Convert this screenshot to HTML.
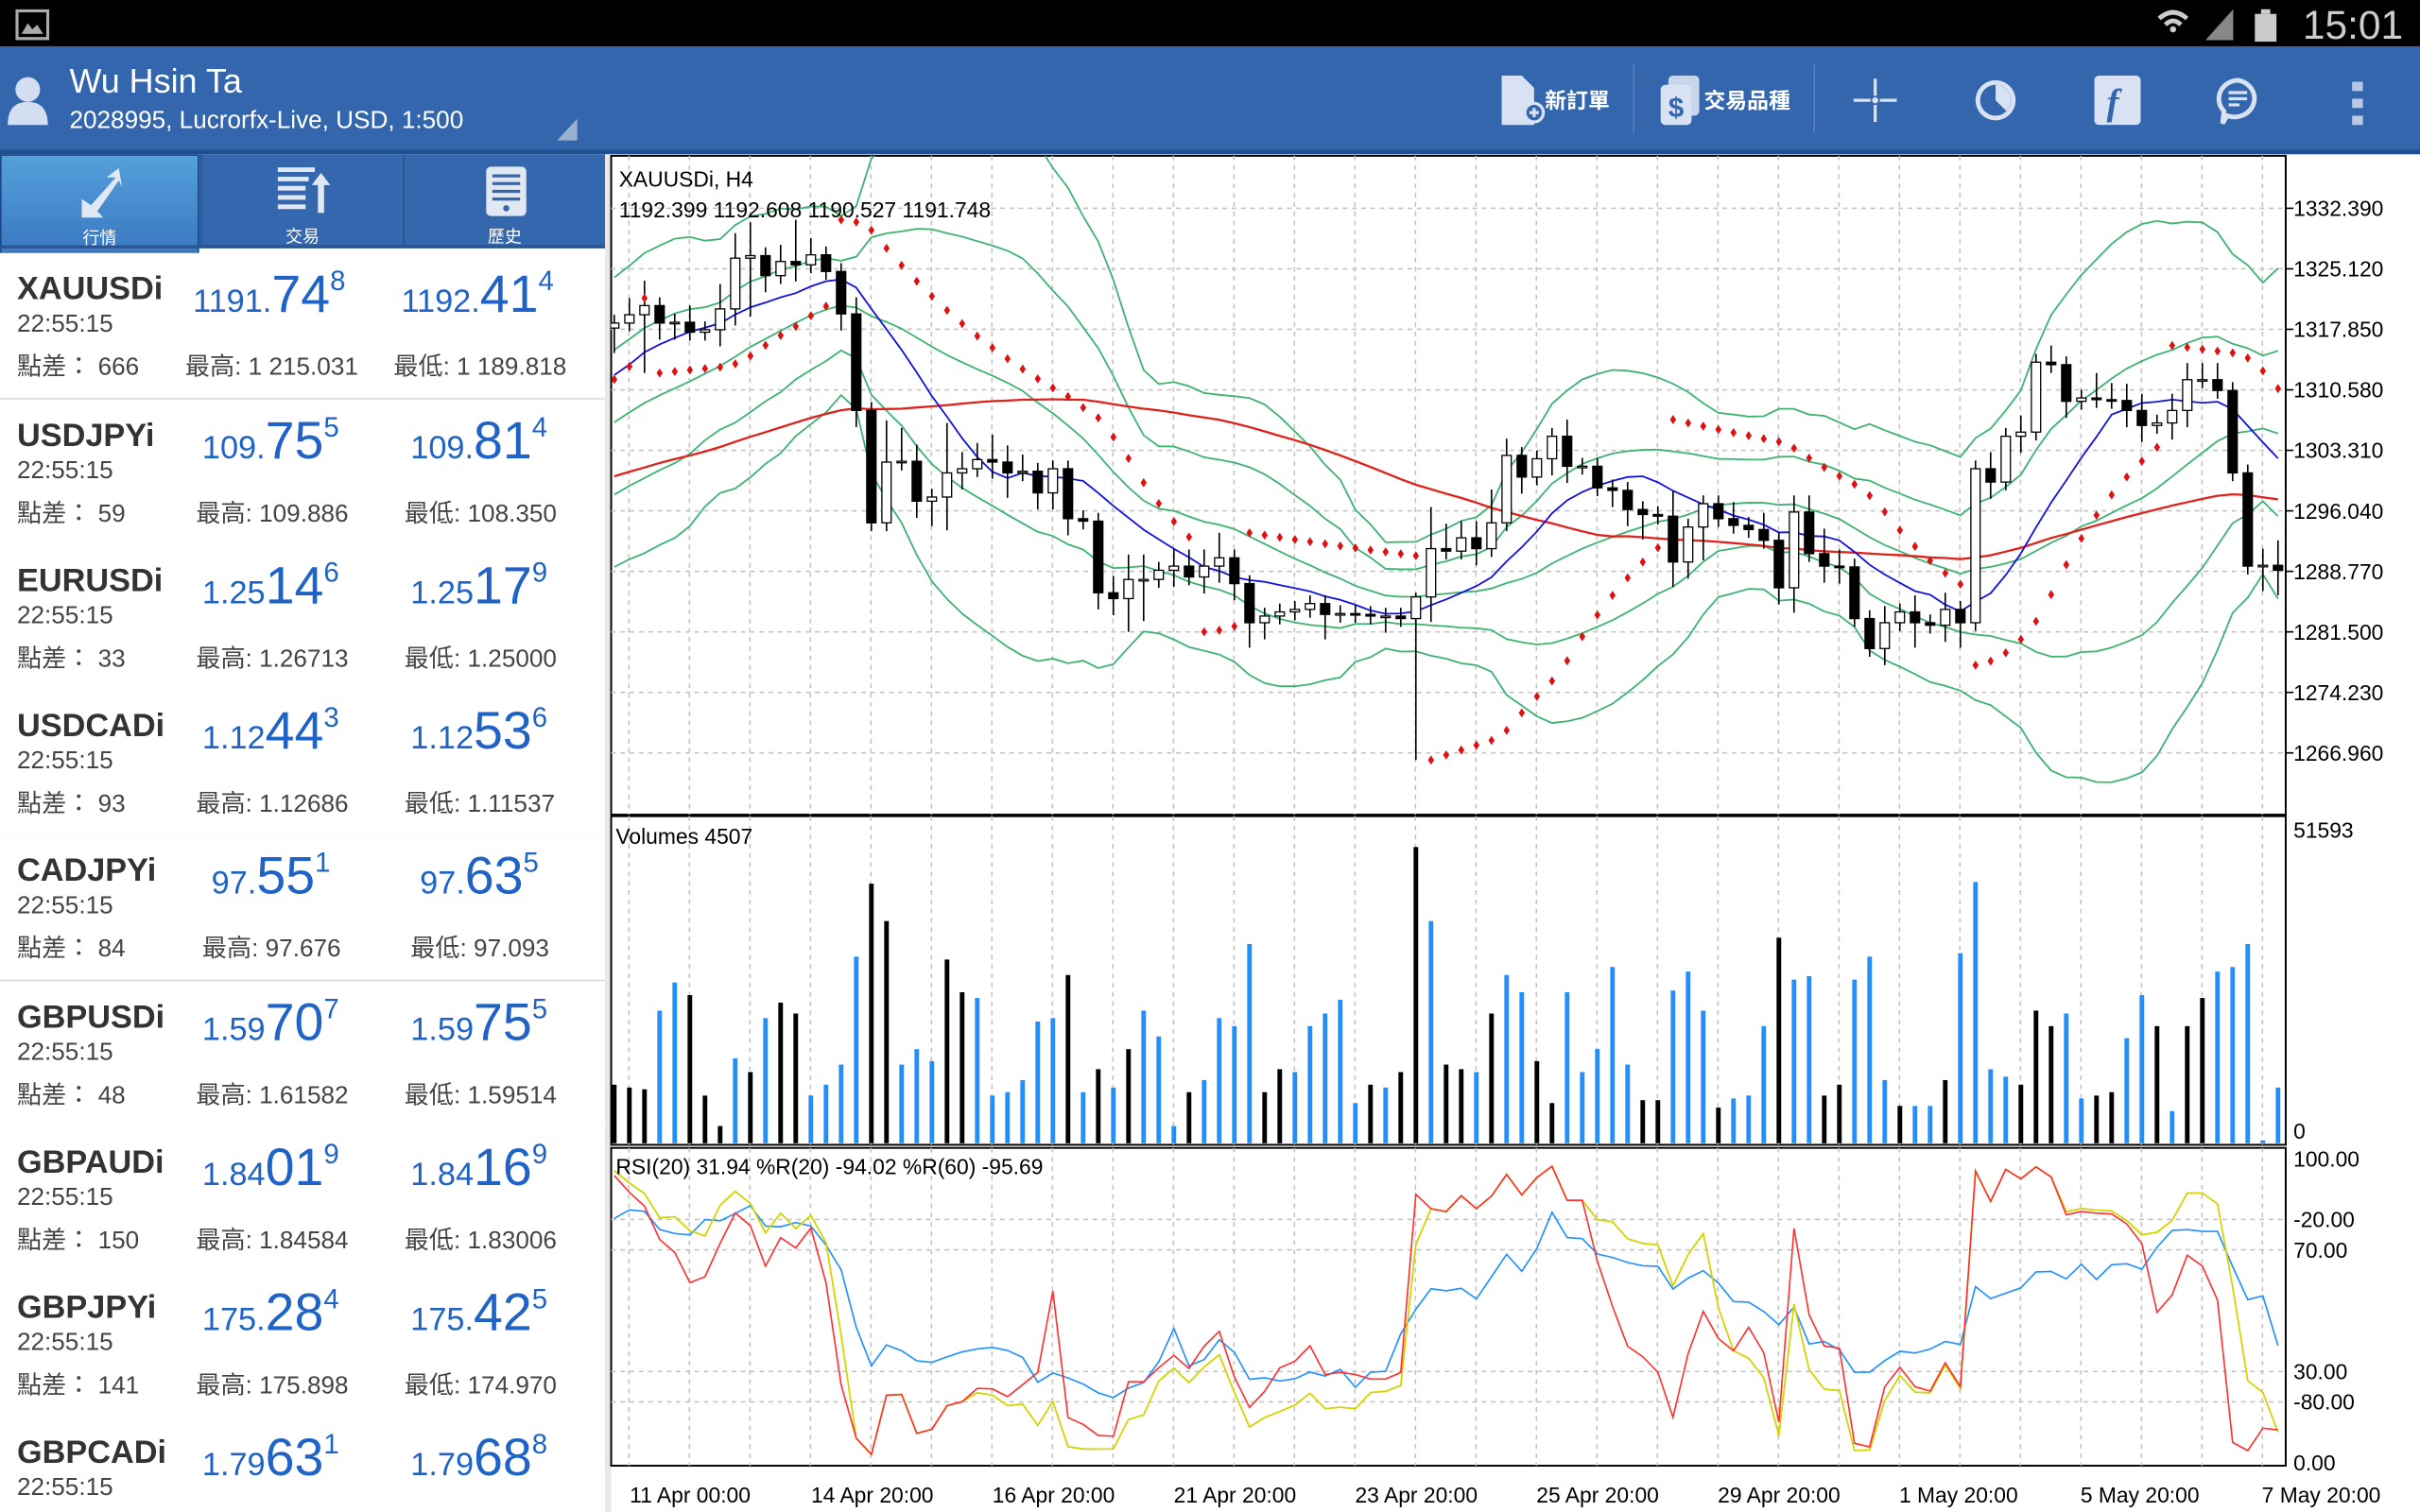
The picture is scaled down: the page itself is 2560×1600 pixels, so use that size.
<!DOCTYPE html>
<html><head><meta charset="utf-8">
<style>
html,body{margin:0;padding:0;background:#fff;overflow:hidden;width:2560px;height:1600px}
#wrap{position:absolute;left:0;top:0;width:1568px;height:980px;transform:scale(1.632653);transform-origin:0 0;font-family:"Liberation Sans","Noto Sans CJK TC",sans-serif}
.abs{position:absolute}
#status{left:0;top:0;width:1568px;height:30px;background:#000}
#header{left:0;top:30px;width:1568px;height:68px;background:#3366ad}
#hdrline{left:0;top:97px;width:1568px;height:3px;background:#1f4f8f}
.row{position:absolute;left:0;width:392px;height:94px;border-bottom:1px solid #d8d8d8;background:#fff}
.sym{position:absolute;left:11px;top:12px;font-size:21px;font-weight:bold;color:#333}
.tm{position:absolute;left:11px;top:38px;font-size:16px;color:#444}
.sp{position:absolute;left:11px;top:60px;font-size:16px;color:#444;white-space:nowrap}
.hi{position:absolute;left:120px;top:60px;font-size:16px;color:#444;white-space:nowrap}
.lo{position:absolute;left:255px;top:60px;font-size:16px;color:#444;white-space:nowrap}
.px{position:absolute;top:8px;color:#1f63c6;white-space:nowrap}
.px .s{font-size:21px}.px .b{font-size:34px}.px .u{font-size:18px;vertical-align:14px}
.tab{position:absolute;top:100px;height:60px;width:130px;color:#fff;font-size:11px;text-align:center}
</style></head><body>
<div id="wrap">
<div id="status" class="abs">
 <svg class="abs" style="left:10px;top:6px" width="22" height="20"><rect x="1" y="1" width="20" height="18" fill="none" stroke="#aaa" stroke-width="2"/><path d="M4 16 L8 9 L11 13 L14 10 L18 16Z" fill="#aaa"/></svg>
 <svg class="abs" style="left:1395px;top:4px" width="90" height="24"><path d="M4 8 Q13 0 22 8" stroke="#ccc" stroke-width="3" fill="none"/><path d="M8 12 Q13 7 18 12" stroke="#ccc" stroke-width="3" fill="none"/><circle cx="13" cy="15" r="2" fill="#ccc"/><path d="M34 22 L52 2 L52 22Z" fill="#888"/><rect x="66" y="5" width="14" height="18" fill="#ccc"/><rect x="70" y="2" width="6" height="3" fill="#ccc"/></svg>
 <div class="abs" style="left:1492px;top:1px;font-size:26px;color:#ccc">15:01</div>
</div>
<div id="header" class="abs">
 <svg class="abs" style="left:4px;top:18px" width="28" height="34"><circle cx="14" cy="10" r="8" fill="#d3dff0"/><path d="M1 33 Q1 18 14 18 Q27 18 27 33Z" fill="#d3dff0"/></svg>
 <div class="abs" style="left:45px;top:10px;font-size:22px;color:#fff">Wu Hsin Ta</div>
 <div class="abs" style="left:45px;top:40px;font-size:16px;color:#fff">2028995, Lucrorfx-Live, USD, 1:500</div>
 <svg class="abs" style="left:360px;top:46px" width="16" height="16"><path d="M14 1 L14 15 L1 15Z" fill="#9bb0d0"/></svg>
 <div class="abs" style="left:972px;top:18px;width:76px;height:34px"><svg width="30" height="34"><path d="M1 1 L14 1 L22 9 L22 33 L1 33Z" fill="#d8e2f2"/><circle cx="22" cy="25" r="6" fill="#3366ad" stroke="#d8e2f2" stroke-width="2"/><path d="M19 25h6M22 22v6" stroke="#d8e2f2" stroke-width="2"/></svg><span class="abs" style="left:29px;top:7px;color:#fff;font-size:14px;font-weight:bold">新訂單</span></div>
 <div class="abs" style="left:1058px;top:12px;width:1px;height:44px;background:#5a80bd"></div>
 <div class="abs" style="left:1075px;top:18px;width:90px;height:34px"><svg width="30" height="34"><rect x="6" y="1" width="20" height="26" rx="3" fill="#c8d6ec"/><rect x="1" y="7" width="20" height="26" rx="3" fill="#d8e2f2"/><text x="6" y="28" font-size="18" font-weight="bold" fill="#3366ad" font-family="Liberation Sans">$</text></svg><span class="abs" style="left:29px;top:7px;color:#fff;font-size:14px;font-weight:bold">交易品種</span></div>
 <div class="abs" style="left:1175px;top:12px;width:1px;height:44px;background:#5a80bd"></div>
 <svg class="abs" style="left:1200px;top:20px" width="30" height="30"><path d="M15 1v11M15 18v11M1 15h11M18 15h11" stroke="#d8e2f2" stroke-width="2"/><circle cx="15" cy="15" r="2" fill="#d8e2f2"/></svg>
 <svg class="abs" style="left:1278px;top:20px" width="30" height="30"><circle cx="15" cy="15" r="13" fill="#d8e2f2"/><circle cx="15" cy="15" r="10" fill="#3366ad"/><path d="M15 5 L15 15 L22 22 A10 10 0 0 0 15 5Z" fill="#d8e2f2"/></svg>
 <svg class="abs" style="left:1357px;top:19px" width="30" height="32"><rect x="0" y="0" width="30" height="32" rx="3" fill="#d8e2f2"/><text x="8" y="25" font-size="24" font-style="italic" font-weight="bold" fill="#3366ad" font-family="Liberation Serif">f</text></svg>
 <svg class="abs" style="left:1435px;top:20px" width="30" height="32"><path d="M15 2 A13 12 0 1 1 8 25 L5 30 L6 22 A13 12 0 0 1 15 2Z" fill="none" stroke="#d8e2f2" stroke-width="3"/><path d="M9 10h12M9 14h12M9 18h7" stroke="#d8e2f2" stroke-width="2"/></svg>
 <svg class="abs" style="left:1523px;top:22px" width="10" height="30"><rect x="1" y="1" width="7" height="6" fill="#b8c8e4"/><rect x="1" y="12" width="7" height="6" fill="#b8c8e4"/><rect x="1" y="23" width="7" height="6" fill="#b8c8e4"/></svg>
</div>
<div id="hdrline" class="abs"></div>
<div class="abs" style="left:0;top:100px;width:392px;height:60px;background:#3467ad"></div>
<div class="tab" style="left:0;width:129px;background:linear-gradient(#55a0dc,#3a78c0);border:1px solid #1d4a86;box-sizing:border-box;height:66px"><svg width="40" height="36" style="margin-top:6px"><path d="M8 34 L8 22 L14 26 L30 8 L24 8 L32 2 L34 14 L32 10 L18 30 L22 34Z" fill="#e0e8f4"/></svg><div>行情</div></div>
<div class="tab" style="left:130px;border-left:1px solid #2a5590"><svg width="40" height="36" style="margin-top:6px"><path d="M4 4h24M4 10h20M4 16h18M4 22h18M4 28h18" stroke="#e0e8f4" stroke-width="3"/><path d="M30 32 L30 14 L26 14 L32 6 L38 14 L34 14 L34 32Z" fill="#e0e8f4"/></svg><div>交易</div></div>
<div class="tab" style="left:261px;border-left:1px solid #2a5590"><svg width="40" height="36" style="margin-top:6px"><rect x="8" y="2" width="26" height="32" rx="3" fill="#e0e8f4"/><path d="M12 8h18M12 13h18M12 18h18M12 23h18" stroke="#3467ad" stroke-width="2"/><circle cx="21" cy="29" r="2" fill="#3467ad"/></svg><div>歷史</div></div>
<div class="abs" style="left:0;top:159px;width:392px;height:2px;background:#2a5590"></div>

<div class="row" style="top:164px"><div class="sym">XAUUSDi</div><div class="tm">22:55:15</div><div class="sp">點差： 666</div><div class="px" style="left:125px"><span class="s">1191.</span><span class="b">74</span><span class="u">8</span></div><div class="px" style="left:260px"><span class="s">1192.</span><span class="b">41</span><span class="u">4</span></div><div class="hi">最高: 1 215.031</div><div class="lo">最低: 1 189.818</div></div>
<div class="row" style="top:259px"><div class="sym">USDJPYi</div><div class="tm">22:55:15</div><div class="sp">點差： 59</div><div class="px" style="left:131px"><span class="s">109.</span><span class="b">75</span><span class="u">5</span></div><div class="px" style="left:266px"><span class="s">109.</span><span class="b">81</span><span class="u">4</span></div><div class="hi" style="left:127px">最高: 109.886</div><div class="lo" style="left:262px">最低: 108.350</div></div>
<div class="row" style="top:353px"><div class="sym">EURUSDi</div><div class="tm">22:55:15</div><div class="sp">點差： 33</div><div class="px" style="left:131px"><span class="s">1.25</span><span class="b">14</span><span class="u">6</span></div><div class="px" style="left:266px"><span class="s">1.25</span><span class="b">17</span><span class="u">9</span></div><div class="hi" style="left:127px">最高: 1.26713</div><div class="lo" style="left:262px">最低: 1.25000</div></div>
<div class="row" style="top:447px"><div class="sym">USDCADi</div><div class="tm">22:55:15</div><div class="sp">點差： 93</div><div class="px" style="left:131px"><span class="s">1.12</span><span class="b">44</span><span class="u">3</span></div><div class="px" style="left:266px"><span class="s">1.12</span><span class="b">53</span><span class="u">6</span></div><div class="hi" style="left:127px">最高: 1.12686</div><div class="lo" style="left:262px">最低: 1.11537</div></div>
<div class="row" style="top:541px"><div class="sym">CADJPYi</div><div class="tm">22:55:15</div><div class="sp">點差： 84</div><div class="px" style="left:137px"><span class="s">97.</span><span class="b">55</span><span class="u">1</span></div><div class="px" style="left:272px"><span class="s">97.</span><span class="b">63</span><span class="u">5</span></div><div class="hi" style="left:131px">最高: 97.676</div><div class="lo" style="left:266px">最低: 97.093</div></div>
<div class="row" style="top:636px"><div class="sym">GBPUSDi</div><div class="tm">22:55:15</div><div class="sp">點差： 48</div><div class="px" style="left:131px"><span class="s">1.59</span><span class="b">70</span><span class="u">7</span></div><div class="px" style="left:266px"><span class="s">1.59</span><span class="b">75</span><span class="u">5</span></div><div class="hi" style="left:127px">最高: 1.61582</div><div class="lo" style="left:262px">最低: 1.59514</div></div>
<div class="row" style="top:730px"><div class="sym">GBPAUDi</div><div class="tm">22:55:15</div><div class="sp">點差： 150</div><div class="px" style="left:131px"><span class="s">1.84</span><span class="b">01</span><span class="u">9</span></div><div class="px" style="left:266px"><span class="s">1.84</span><span class="b">16</span><span class="u">9</span></div><div class="hi" style="left:127px">最高: 1.84584</div><div class="lo" style="left:262px">最低: 1.83006</div></div>
<div class="row" style="top:824px"><div class="sym">GBPJPYi</div><div class="tm">22:55:15</div><div class="sp">點差： 141</div><div class="px" style="left:131px"><span class="s">175.</span><span class="b">28</span><span class="u">4</span></div><div class="px" style="left:266px"><span class="s">175.</span><span class="b">42</span><span class="u">5</span></div><div class="hi" style="left:127px">最高: 175.898</div><div class="lo" style="left:262px">最低: 174.970</div></div>
<div class="row" style="top:918px;height:62px;border:none"><div class="sym">GBPCADi</div><div class="tm">22:55:15</div><div class="px" style="left:131px"><span class="s">1.79</span><span class="b">63</span><span class="u">1</span></div><div class="px" style="left:266px"><span class="s">1.79</span><span class="b">68</span><span class="u">8</span></div></div>
<div class="abs" style="left:392px;top:100px;width:4px;height:880px;background:#e8e8e8"></div>

<svg id="chart" class="abs" style="left:0;top:0" width="1568" height="980"></svg>
</div>
<script>
const history=[1285,1284,1286,1288,1287,1289,1290,1288,1291,1292,1290,1293,1294,1292,1295,1296,1294,1293,1295,1297,1296,1298,1297,1299,1300,1298,1297,1299,1301,1300,1290,1291,1293,1292,1294,1295,1297,1296,1298,1299,1297,1296,1298,1300,1302,1301,1299,1302,1304,1303,1305,1307,1306,1309,1311,1310,1313,1315,1316,1318];
const closes=[1318.6,1319.6,1320.7,1318.6,1318.7,1317.5,1317.8,1320.3,1326.4,1326.7,1324.3,1326.0,1325.6,1326.8,1324.8,1319.7,1308.1,1294.6,1301.9,1302.0,1297.2,1297.7,1300.6,1301.1,1302.2,1301.9,1300.6,1300.8,1298.2,1301.1,1295.1,1294.8,1286.2,1285.5,1287.8,1287.8,1288.9,1289.4,1288.1,1289.4,1290.4,1287.3,1282.6,1283.4,1283.9,1284.2,1284.9,1283.6,1283.7,1283.6,1283.4,1283.4,1283.1,1285.7,1291.5,1291.2,1292.8,1291.5,1294.6,1302.7,1300.1,1302.3,1305.0,1301.4,1301.4,1298.8,1298.5,1296.2,1295.6,1295.4,1289.9,1294.1,1296.9,1295.1,1294.3,1293.8,1292.5,1286.8,1295.9,1290.9,1289.4,1289.3,1283.1,1279.5,1282.6,1283.9,1282.6,1282.3,1284.2,1282.6,1301.1,1299.5,1305.0,1305.5,1313.9,1313.6,1309.2,1309.6,1309.4,1309.3,1308.1,1306.3,1306.6,1308.1,1311.8,1311.8,1310.5,1300.6,1289.4,1289.5,1288.9];
const wickUp=[1,2,3,1,1,2,1,3,3,4,1,2,5,2,1,1,2,1,5,4,2,1,6,2,2,3,2,2,1,1,1,1,1,2,3,3,1,2,2,2,3,1,1,1,1,1,1,1,1,1,1,1,1,0.5,5,3,2,2,4,2,1,1,1,2,1,1,1,1,1,1,3,1,1,1,2,1,2,1,2,2,3,2,1,1,2,1,2,1,2,1,1,2,1,2,1,2,1,1,3,2,2,2,1,2,2,2,2,1,1,2,3];
const wickDn=[3,1,7,2,2,1,1,2,2,7,2,1,2,1,1,2,2,1,1,1,2,3,4,2,1,2,3,1,2,2,2,1,2,2,4,5,1,2,1,2,2,2,3,2,1,1,1,3,1,1,1,2,1,17,3,1,1,2,1,1,2,1,2,2,1,1,2,2,3,1,3,2,4,1,1,1,1,2,3,1,2,2,1,1,2,1,3,1,2,3,1,2,1,2,1,1,2,1,1,1,2,2,1,2,2,1,1,1,1,3,3];
const volumes=[10200,9700,9400,23100,28000,25800,8300,3000,14800,12400,21800,24500,22600,8300,10200,13700,32500,45200,38700,13700,16400,14300,32000,26300,25300,8300,8900,11000,21200,21800,29300,8900,12900,9700,16400,23100,18600,3000,8900,11000,21800,20400,34700,8900,12900,12400,20400,22600,25000,7000,10200,9700,12400,51593,38700,13700,12900,12400,22600,29300,26300,14300,7000,26300,12400,16400,30700,13700,7500,7500,26600,29900,23100,6200,7800,8300,20400,35800,28500,29100,8300,10200,28500,32500,11000,6500,6500,6500,11000,33100,45500,12900,11600,10200,23100,20400,22600,7800,8300,8900,18300,25800,20400,5600,20400,25300,29900,30700,34700,500,9700];
const volColors="bbbuubbbububbuuuubbuuubbuuuuuubububuuubuuuubbuuuuububbubbubuubbuuuuubbuuubuuubuubbuuubuubuuuubbbuubbuububbuuuuubu";
const priceTicks=[1332.390,1325.120,1317.850,1310.580,1303.310,1296.040,1288.770,1281.500,1274.230,1266.960];
const dateLabels=["11 Apr 00:00","14 Apr 20:00","16 Apr 20:00","21 Apr 20:00","23 Apr 20:00","25 Apr 20:00","29 Apr 20:00","1 May 20:00","5 May 20:00","7 May 20:00"];
const rsiTicks=[["100.00",100],["-20.00",80],["70.00",70],["30.00",30],["-80.00",20],["0.00",0]];

const svg=document.getElementById('chart');
const NS='http://www.w3.org/2000/svg';
function mk(tag,attrs,parent){const e=document.createElementNS(NS,tag);for(const k in attrs)e.setAttribute(k,attrs[k]);(parent||svg).appendChild(e);return e;}
const X0=398,STEP=9.8;
const xS=i=>X0+i*STEP;
const yP=p=>135+(1332.39-p)*(353/65.43);
const yV=v=>741-v/51593*192;
const yR=v=>948-v*1.97;
const n=closes.length,H=history.length;
const opens=closes.map((c,i)=>i?closes[i-1]:history[H-1]);
const highs=closes.map((c,i)=>Math.max(c,opens[i])+(wickUp[i]||1));
const lows=closes.map((c,i)=>Math.min(c,opens[i])-(wickDn[i]||1));
const allC=history.concat(closes);
const allH=history.map(c=>c+1.5).concat(highs);
const allL=history.map(c=>c-1.5).concat(lows);

const panels=[[396,101,1085,427,'main-panel'],[396,529,1085,213,'volume-panel'],[396,744,1085,206,'rsi-panel']];
panels.forEach(p=>{const r=mk('rect',{x:p[0],y:p[1],width:p[2],height:p[3],fill:'#fff',stroke:'#000','stroke-width':1.2});

});
const defs=mk('defs',{});
[['cm',101,427],['cv',529,213],['cr',744,206]].forEach(c=>{const cp=mk('clipPath',{id:c[0]},defs);mk('rect',{x:396,y:c[1],width:1085,height:c[2]},cp);});
const grid=mk('g',{stroke:'#c4c4c4','stroke-dasharray':'3,3','stroke-width':1});


for(let gx=407.5;gx<1481;gx+=39.2){[[101,528],[529,742],[744,950]].forEach(s=>mk('line',{x1:gx,x2:gx,y1:s[0],y2:s[1]},grid));}
priceTicks.forEach(t=>mk('line',{x1:396,x2:1481,y1:yP(t),y2:yP(t)},grid));
rsiTicks.forEach(t=>{if(t[1]>0&&t[1]<100)mk('line',{x1:396,x2:1481,y1:yR(t[1]),y2:yR(t[1])},grid);});

// indicators computed on full series (history + visible), plotted for visible bars
function sma(a,p,j){let s=0,c=0;for(let k=Math.max(0,j-p+1);k<=j;k++){s+=a[k];c++;}return s/c;}
function sd(a,p,j){const m=sma(a,p,j);let s=0,c=0;for(let k=Math.max(0,j-p+1);k<=j;k++){s+=(a[k]-m)**2;c++;}return Math.sqrt(s/c);}
function line(vals,color,w,clip,name,ys){const d=vals.map((v,i)=>(i?'L':'M')+xS(i).toFixed(1)+' '+ys(v).toFixed(1)).join('');const p=mk('path',{d:d,fill:'none',stroke:color,'stroke-width':w,'clip-path':'url(#'+clip+')'});

}
const mid=closes.map((c,i)=>sma(allC,20,i+H));
const dev=closes.map((c,i)=>Math.max(sd(allC,20,i+H),1.5));
[[-2.6,'bb-outer-lower'],[-1.3,'bb-inner-lower'],[0,'bb-middle'],[1.3,'bb-inner-upper'],[2.6,'bb-outer-upper']].forEach(k=>line(mid.map((m,i)=>m+k[0]*dev[i]),'#3cb371',1.1,'cm',k[1],yP));
line(closes.map((c,i)=>sma(allC,50,i+H)),'#e0201a',1.4,'cm','slow-moving-average',yP);
line(closes.map((c,i)=>sma(allC,10,i+H)),'#1010e0',1.1,'cm','fast-moving-average',yP);

const cg=mk('g',{'clip-path':'url(#cm)'});
closes.forEach((c,i)=>{const x=xS(i),o=opens[i];
 mk('line',{x1:x,x2:x,y1:yP(highs[i]),y2:yP(lows[i]),stroke:'#000','stroke-width':1},cg);
 const top=yP(Math.max(o,c)),bh=Math.max(1,Math.abs(yP(o)-yP(c)));
 const b=mk('rect',{x:x-3,y:top,width:6,height:bh,fill:c>=o?'#fff':'#000',stroke:'#000','stroke-width':0.8},cg);
 
 });

(function(){let up=true,af=0.02,ep=allH[0],sar=allL[0];const out=[];
 for(let i=0;i<allC.length;i++){if(i>0){sar=sar+af*(ep-sar);
  if(up){if(allL[i]<sar){up=false;sar=ep;ep=allL[i];af=0.02;}else if(allH[i]>ep){ep=allH[i];af=Math.min(0.2,af+0.02);}}
  else{if(allH[i]>sar){up=true;sar=ep;ep=allH[i];af=0.02;}else if(allL[i]<ep){ep=allL[i];af=Math.min(0.2,af+0.02);}}}
  out.push(sar);}
 const g=mk('g',{fill:'#e01010','clip-path':'url(#cm)'});
 out.slice(H).forEach((s,i)=>{const y=yP(s),x=xS(i);const d=mk('path',{d:`M${x} ${y-3}L${x+2} ${y}L${x} ${y+3}L${x-2} ${y}Z`},g);
 
 });})();

volumes.forEach((v,i)=>{const r=mk('rect',{x:xS(i)-1.5,y:yV(v),width:3,height:741-yV(v),fill:volColors[i]==='u'?'#1e90ff':'#000','clip-path':'url(#cv)'});
 
 });

const rsi=closes.map((c,i)=>{const j=i+H;let g=0,l=0;for(let k=j-19;k<=j;k++){const d=allC[k]-allC[k-1];if(d>0)g+=d;else l-=d;}return (g+l)?100*g/(g+l):50;});
function wr(p){return closes.map((c,i)=>{const j=i+H;let h=-1e9,lo=1e9;for(let k=Math.max(0,j-p+1);k<=j;k++){h=Math.max(h,allH[k]);lo=Math.min(lo,allL[k]);}return 100*(c-lo)/(h-lo);});}
line(rsi,'#1e90ff',1,'cr','rsi-line',yR);
line(wr(20),'#d4d400',1.1,'cr','williams-r20-line',yR);
line(wr(12),'#ff3030',1,'cr','williams-r60-line',yR);

function txt(s,x,y,size,name,anchor){const t=mk('text',{x:x,y:y,'font-size':size,'font-family':'Liberation Sans, sans-serif',fill:'#000','text-anchor':anchor||'start'});t.textContent=s;
 
 return t;}
priceTicks.forEach(t=>{mk('line',{x1:1481,x2:1486,y1:yP(t),y2:yP(t),stroke:'#000'});txt(t.toFixed(3),1486,yP(t)+5,14,'price-tick-label');});
txt('51593',1486,543,14,'volume-max-label');txt('0',1486,738,14,'volume-zero-label');
rsiTicks.forEach(t=>txt(t[0],1486,yR(t[1])+5,14,'rsi-tick-label'));
dateLabels.forEach((d,i)=>txt(d,408+i*117.5,974,14,'date-label'));
txt('XAUUSDi, H4',401,121,14,'chart-symbol-title');
txt('1192.399 1192.608 1190.527 1191.748',401,141,14,'ohlc-readout');
txt('Volumes 4507',399,547,14,'volume-title');
txt('RSI(20) 31.94 %R(20) -94.02 %R(60) -95.69',399,761,14,'rsi-title');
</script>
</body></html>
